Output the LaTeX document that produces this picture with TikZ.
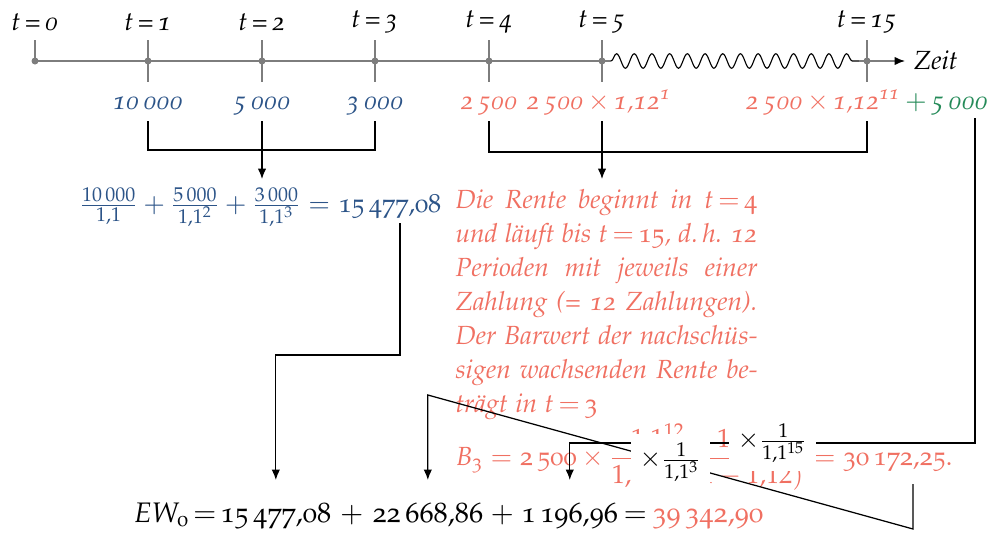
\documentclass[tikz,border=0pt]{standalone}
\usepackage[T1]{fontenc}
\usepackage[osf]{mathpazo}
\usepackage{amsmath}
\usetikzlibrary{arrows.meta,decorations.pathmorphing,calc}
\definecolor{myblue}{RGB}{44,84,136}
\definecolor{myred}{RGB}{240,112,98}
\definecolor{mygreen}{RGB}{36,138,88}
\definecolor{tlgray}{RGB}{125,125,125}
\newcommand\of[1]{\textup{#1}}
\newcommand\teq[1]{$t\mkern3mu{=}\mkern3mu\of{#1}$}
\begin{document}
\begin{tikzpicture}[x=0.4pt,y=-0.4pt,font=\fontsize{10.5}{13.6}\selectfont,
  tl/.style={draw=tlgray,line width=0.55pt},
  tick/.style={draw=tlgray,line width=0.55pt},
  dot/.style={circle,fill=tlgray,inner sep=0pt,minimum size=2.8pt},
  tlab/.style={font=\fontsize{10.5}{13.6}\selectfont\itshape},
  amt/.style={anchor=base,font=\fontsize{10.5}{13.6}\selectfont\itshape},
  conn/.style={draw=black,line width=0.5pt},
  arr/.style={conn,-{Latex[length=4.2pt,width=3.4pt]}},
  para/.style={anchor=base west,inner sep=0pt,text=myred,font=\fontsize{10.5}{13.6}\selectfont\itshape},
  chain/.style={anchor=base west,inner sep=0pt},
  ewf/.style={inner sep=0pt,font=\fontsize{11.3}{13.6}\selectfont},
  mult/.style={fill=white,text=black},
]
\useasboundingbox (0,0) rectangle (992,533);
% timeline
\foreach \n/\x in {0/35,1/148,2/262,3/375,4/489,5/602,15/867}{
  \coordinate (p\n) at (\x,61);
  \node[tlab] (l\n) at (\x,22) {t\,=\,\n};
}
\coordinate (w1) at (611,61);
\coordinate (w2) at (859,61);
\coordinate (tip) at (905,61);
\foreach \n in {1,2,3,4,5,15}
  \draw[tick] ($(p\n)+(0,-21)$) -- ($(p\n)+(0,21)$);
\draw[tick] ($(p0)+(0,-21)$) -- (p0);
\draw[tl] (p0) -- (p5) -- (w1);
\draw[line width=0.45pt,decorate,decoration={snake,amplitude=2.9pt,segment length=7.08pt}] (w1) -- (w2);
\draw[tl] (w2) -- (p15);
\draw[tl,-{Latex[length=4.2pt,width=3.4pt,color=black]}] (p15) -- (tip);
\node[anchor=west,font=\fontsize{10.5}{13.6}\selectfont\itshape] (zeit) at (tip) {Zeit};
\foreach \n in {0,1,2,3,4,5,15}
  \node[dot] (d\n) at (p\n) {};
% amounts
\node[amt,text=myblue] (a1) at (148,109) {10\,000};
\node[amt,text=myblue] (a2) at (262,109) {5\,000};
\node[amt,text=myblue] (a3) at (375,109) {3\,000};
\node[amt,text=myred] (a4) at (489,109) {2\,500};
\node[amt,text=myred] (a5) at (599,109) {2\,500\,$\times$\,1,12\textsuperscript{1}};
\node[amt] (a15) at (867,109) {\textcolor{myred}{2\,500\,$\times$\,1,12\textsuperscript{11}}\,\textcolor{mygreen}{$+$\,5\,000}};
% brackets
\coordinate (btop) at (0,121);
\coordinate (bbar) at (0,150);
\coordinate (bbarr) at (0,152);
\coordinate (atip) at (0,179);
\draw[conn] (a1 |- btop) -- (a1 |- bbar) -- (a3 |- bbar) -- (a3 |- btop);
\draw[arr] (a2 |- btop) -- (a2 |- atip);
\draw[conn] (a4 |- btop) -- (a4 |- bbarr) -- (a15 |- bbarr) -- (a15 |- btop);
\draw[arr] (p5 |- btop) -- (p5 |- atip);
% blue formula
\node[chain,text=myblue] (bfn) at (338,212) {15\,477,08};
\node[anchor=base east,inner sep=0pt,text=myblue] (bf) at (bfn.base west)
  {$\frac{10\,000}{1{,}1}+\frac{5\,000}{1{,}1^2}+\frac{3\,000}{1{,}1^3}={}$};
% red paragraph
\node[para] (r1) at (455,208) {\makebox[120.8pt][s]{Die Rente beginnt in \mbox{\teq{4}}}};
\node[para] (r2) at (455,242) {\makebox[120.8pt][s]{und l\"auft bis \mbox{\teq{15}}, d.\,h. 12}};
\node[para] (r3) at (455,276) {\makebox[120.8pt][s]{Perioden mit jeweils einer}};
\node[para] (r4) at (455,310) {\makebox[120.8pt][s]{Zahlung (= 12 Zahlungen).}};
\node[para] (r5) at (455,344) {\makebox[120.8pt][s]{Der Barwert der nachsch\"us-}};
\node[para] (r6) at (455,378) {\makebox[120.8pt][s]{sigen wachsenden Rente be-}};
\node[para] (r7) at (455,412) {tr\"agt in \teq{3}};
\node[chain,text=myred] (b3) at (455,465)
  {$\displaystyle B_{\of{3}}=\of{2\,500}\times\frac{1{,}1^{12}-1{,}12^{12}}{1{,}1^{12}\,(1{,}1-1{,}12)}=\of{30\,172,25.}$};
% EW line
\node[ewf,anchor=base west] (e1) at (133,522) {$EW_{\of{0}}$};
\node[ewf,anchor=base west] (e2) at (220,522) {15\,477,08};
\node[ewf,anchor=base west] (e4) at (372,522) {22\,668,86};
\node[ewf,anchor=base west] (e6) at (521,522) {1\,196,96};
\node[ewf,anchor=base west,text=myred] (e8) at (652,522) {39\,342,90};
\node[ewf,anchor=base] (e1b) at ($(e1.base east)!0.5!(e2.base west)$) {$=$};
\node[ewf,anchor=base] (e3) at ($(e2.base east)!0.5!(e4.base west)$) {$+$};
\node[ewf,anchor=base] (e5) at ($(e4.base east)!0.5!(e6.base west)$) {$+$};
\node[ewf,anchor=base] (e7) at ($(e6.base east)!0.5!(e8.base west)$) {$=$};
% connectors to EW line
\coordinate (etip) at (0,480);
\coordinate (k1) at (0,355);
\coordinate (k2) at (0,443);
\coordinate (k3) at (0,395);
\coordinate (s1) at ([xshift=4pt,yshift=-2pt]bfn.south);
\draw[arr] (s1) -- (s1 |- k1) -| (e2 |- etip);
\coordinate (g1) at (975,118);
\draw[arr] (g1) -- (g1 |- k2) -- node[mult] (m15) {$\times\frac{1}{1{,}1^{15}}$} (e6 |- k2) -- (e6 |- etip);
\coordinate (d1) at (913,484);
\coordinate (d2) at (913,529);
\draw[arr] (d1) -- (d2) -- node[mult] (m3) {$\times\frac{1}{1{,}1^{3}}$} (e4 |- k3) -- (e4 |- etip);
\end{tikzpicture}
\end{document}
